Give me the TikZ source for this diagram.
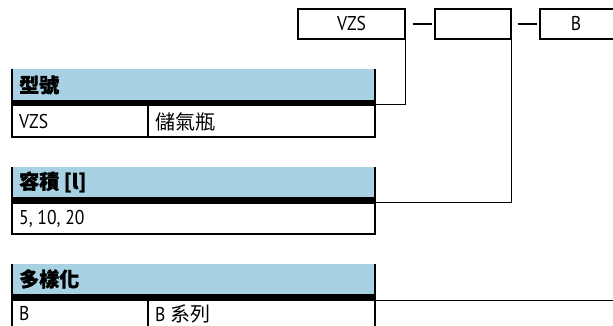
\documentclass[tikz,border=0pt]{standalone}
\usepackage{fontspec}
\setmainfont{PT Sans}[FakeStretch=0.88]
\newfontfamily\cjk{Noto Sans CJK TC}
\newfontfamily\cjkb{Noto Sans CJK TC}[FakeBold=1.2]
\definecolor{hdrblue}{HTML}{A8D2E4}
\tikzset{
  topbox/.style={draw=black, line width=1.3pt, minimum height=30pt, inner sep=0pt},
  conn/.style={draw=black, line width=1.3pt},
  border/.style={draw=black, line width=2pt},
  celltext/.style={anchor=west, inner sep=0pt, font=\fontsize{20}{20}\selectfont},
  cjktext/.style={anchor=west, inner sep=0pt, font=\fontsize{20}{20}\cjk},
  cjkhdr/.style={anchor=west, inner sep=0pt, font=\fontsize{20}{20}\cjkb\bfseries},
}
\begin{document}
\begin{tikzpicture}[x=1pt, y=-1pt]
\useasboundingbox (0,0) rectangle (613,326);
% top code boxes
\node[topbox, minimum width=107pt, font=\fontsize{20}{20}\selectfont] (b1) at (351.5,24) {VZS};
\node[topbox, minimum width=76pt] (b2) at (473,24) {};
\node[topbox, minimum width=90pt] (b3) at (585,24) {};
\node[font=\fontsize{20}{20}\selectfont, inner sep=0pt] (b3t) at (576,24) {B};
\draw[conn, shorten <=7pt, shorten >=2pt] (b1.east) -- (b2.west);
\draw[conn, shorten <=6pt, shorten >=2pt] (b2.east) -- (b3.west);
% table 1
\fill[hdrblue] (12,69) rectangle (375,100);
\fill[black] (12,100) rectangle (375,106.5);
\draw[border] (12,69) -- (12,137) -- (375,137) -- (375,69);
\draw[border] (148,106) -- (148,137);
\node[cjkhdr] (h1) at (19,85) {型號};
\node[celltext] (r1a) at (19,121.5) {VZS};
\node[cjktext] (r1b) at (155,121.5) {儲氣瓶};
% table 2
\fill[hdrblue] (12,167) rectangle (375,197);
\fill[black] (12,197) rectangle (375,203.5);
\draw[border] (12,167) -- (12,234) -- (375,234) -- (375,167);
\node[cjkhdr] (h2) at (19,182) {容積 [l]};
\node[celltext] (r2a) at (19,218.5) {5, 10, 20};
% table 3
\fill[hdrblue] (12,264) rectangle (375,294);
\fill[black] (12,294) rectangle (375,301);
\draw[border] (12,264) -- (12,340) (375,340) -- (375,264);
\draw[border] (148,300) -- (148,340);
\node[cjkhdr] (h3) at (19,279) {多樣化};
\node[celltext] (r3a) at (19,313.5) {B};
\node[celltext] (r3b) at (155,313.5) {B \cjk\fontsize{20}{20}\selectfont 系列};
% connectors
\coordinate (t1) at (375,104.5);
\coordinate (t2) at (375,202.7);
\coordinate (t3) at (375,300.7);
\coordinate (e3) at (630,300.7);
\draw[conn] (b1.south east) |- (t1);
\draw[conn] (b2.south east) |- (t2);
\draw[conn] (t3) -- (e3);
\end{tikzpicture}
\end{document}
